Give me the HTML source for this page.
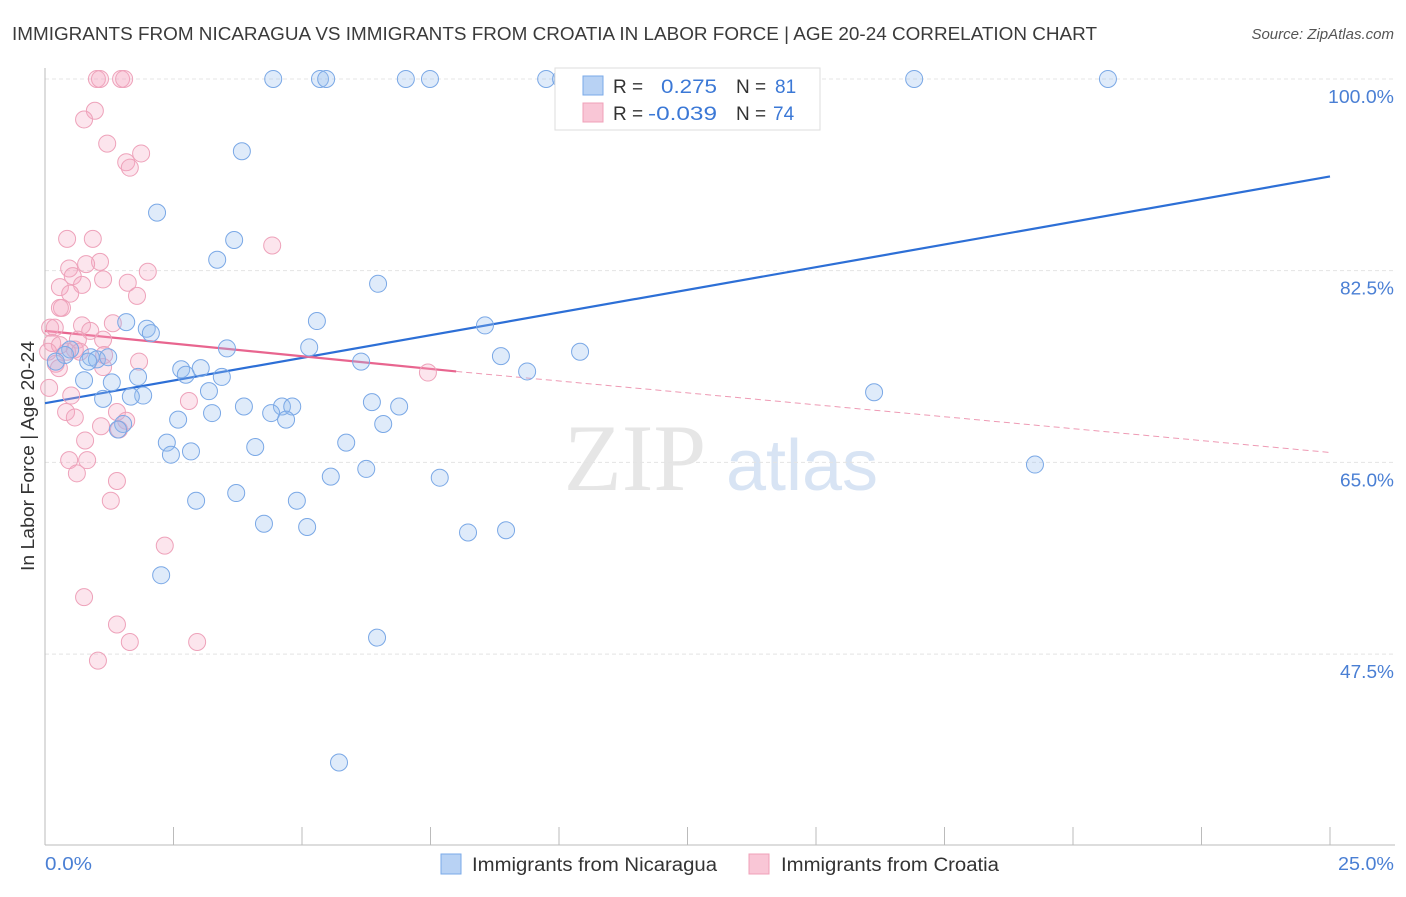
<!DOCTYPE html>
<html><head><meta charset="utf-8"><style>
body{margin:0;background:#fff;width:1406px;height:892px;overflow:hidden;font-family:"Liberation Sans",sans-serif}
</style></head><body>
<svg id="chart" width="1406" height="892" xmlns="http://www.w3.org/2000/svg" font-family="Liberation Sans, sans-serif">
<text x="12" y="40" font-size="18" fill="#3a3a3a" textLength="1085" lengthAdjust="spacingAndGlyphs">IMMIGRANTS FROM NICARAGUA VS IMMIGRANTS FROM CROATIA IN LABOR FORCE | AGE 20-24 CORRELATION CHART</text>
<text x="1394" y="39" font-size="15" fill="#555" text-anchor="end" font-style="italic">Source: ZipAtlas.com</text>
<g>
<text x="635" y="490" font-size="95" fill="#e6e6e6" text-anchor="middle" font-family="Liberation Serif, serif">ZIP</text>
<text x="802" y="490" font-size="72" fill="#d8e4f4" text-anchor="middle">atlas</text>
</g>
<g id="grid"></g>
<g id="axes"></g>
<g id="trend"></g>
<g id="points"></g>
<text transform="translate(34,456) rotate(-90)" font-size="18" fill="#333" text-anchor="middle" textLength="230" lengthAdjust="spacingAndGlyphs">In Labor Force | Age 20-24</text>
<text x="45" y="870" font-size="18" fill="#4a7fd4" textLength="47" lengthAdjust="spacingAndGlyphs">0.0%</text>
<text x="1394" y="870" font-size="18" fill="#4a7fd4" text-anchor="end" textLength="56" lengthAdjust="spacingAndGlyphs">25.0%</text>
<g>
<rect x="555" y="68" width="265" height="62" fill="#fff" stroke="#ddd"/>
<rect x="583" y="76" width="20" height="19" fill="#b8d2f4" stroke="#7aaae8"/>
<rect x="583" y="103" width="20" height="19" fill="#f9c6d6" stroke="#f0a0b8"/>
<text x="613" y="93" font-size="19" fill="#333">R =</text><text x="661" y="93" font-size="19" fill="#3b78d6" textLength="56" lengthAdjust="spacingAndGlyphs">0.275</text>
<text x="736" y="93" font-size="19" fill="#333">N =</text><text x="775" y="93" font-size="19" fill="#3b78d6">81</text>
<text x="613" y="120" font-size="19" fill="#333">R =</text><text x="648" y="120" font-size="19" fill="#3b78d6" textLength="69" lengthAdjust="spacingAndGlyphs">-0.039</text>
<text x="736" y="120" font-size="19" fill="#333">N =</text><text x="773" y="120" font-size="19" fill="#3b78d6">74</text>
</g>
<g>
<rect x="441" y="854" width="20" height="20" fill="#b8d2f4" stroke="#7aaae8"/>
<text x="472" y="871" font-size="19" fill="#333" textLength="245" lengthAdjust="spacingAndGlyphs">Immigrants from Nicaragua</text>
<rect x="749" y="854" width="20" height="20" fill="#f9c6d6" stroke="#f0a0b8"/>
<text x="781" y="871" font-size="19" fill="#333" textLength="218" lengthAdjust="spacingAndGlyphs">Immigrants from Croatia</text>
</g>
</svg>
<script>
const yTicks=[100,82.5,65,47.5];
const xTickVals=[0,2.5,5,7.5,10,12.5,15,17.5,20,22.5,25];
const blueX=[4.44,5.35,5.47,7.02,7.49,9.75,10.04,16.91,20.68,10.70,3.83,2.18,3.68,3.35,6.48,1.58,1.98,2.06,5.29,8.56,3.54,5.14,10.41,8.87,0.49,0.39,0.89,1.01,1.23,0.21,0.84,6.15,2.65,3.03,2.74,3.44,9.38,0.76,1.81,1.30,3.19,16.13,1.13,1.91,1.67,3.87,3.25,4.61,4.81,4.40,4.69,6.36,6.89,2.59,6.58,1.52,1.42,2.37,5.86,4.09,2.45,2.84,19.26,6.25,5.56,7.68,3.72,2.94,4.90,4.26,5.10,8.23,8.97,2.26,6.46,5.72];
const blueY=[100,100,100,100,100,100,100,100,100,99.5,93.4,87.8,85.3,83.5,81.3,77.8,77.2,76.8,77.9,77.5,75.4,75.5,75.1,74.7,75.3,74.8,74.6,74.4,74.6,74.2,74.2,74.2,73.5,73.6,73.0,72.8,73.3,72.5,72.8,72.3,71.5,71.4,70.8,71.1,71.0,70.1,69.5,70.1,70.1,69.5,68.9,70.5,70.1,68.9,68.5,68.5,68.0,66.8,66.8,66.4,65.7,66.0,64.8,64.4,63.7,63.6,62.2,61.5,61.5,59.4,59.1,58.6,58.8,54.7,49.0,37.6];
const pinkX=[1.01,1.07,1.48,1.54,0.97,0.76,1.21,1.58,1.87,1.65,0.43,0.93,4.42,0.47,1.07,0.80,2.00,0.54,0.72,1.13,1.61,0.29,1.79,0.49,0.33,0.29,0.10,0.19,0.72,1.32,0.88,0.64,1.13,0.14,0.29,0.58,0.06,0.43,0.68,1.15,1.83,0.21,0.27,7.45,1.13,0.08,0.51,2.80,0.41,0.58,1.40,1.58,1.09,1.44,0.78,0.82,0.47,0.62,1.40,1.28,2.33,0.76,1.40,1.65,2.96,1.03];
const pinkY=[100,100,100,100,97.1,96.3,94.1,92.4,93.2,91.9,85.4,85.4,84.8,82.7,83.3,83.1,82.4,82.0,81.2,81.7,81.4,81.0,80.2,80.4,79.1,79.1,77.3,77.3,77.5,77.7,77.0,76.2,76.2,75.9,75.7,75.3,75.1,75.1,75.1,74.8,74.2,74.0,73.6,73.2,73.7,71.8,71.1,70.6,69.6,69.1,69.6,68.8,68.3,68.0,67.0,65.2,65.2,64.0,63.3,61.5,57.4,52.7,50.2,48.6,48.6,46.9];
const blueTrend=[[0,70.4],[25,91.1]];
const pinkTrendSolid=[[0,77.0],[8,73.3]];
const pinkTrendDash=[[8,73.3],[25,65.9]];
const NS='http://www.w3.org/2000/svg';
const X0=45,X1=1330,YT=68,YB=845,YMIN=30.07,YMAX=101.0;
function sx(v){return X0+(v/25)*(X1-X0);}
function sy(v){return YB-(v-YMIN)/(YMAX-YMIN)*(YB-YT);}
function mk(tag,attrs,parent){const e=document.createElementNS(NS,tag);for(const k in attrs)e.setAttribute(k,attrs[k]);document.getElementById(parent).appendChild(e);return e;}
mk('line',{x1:X0,y1:sy(100),x2:1395,y2:sy(100),stroke:'#e4e4e4','stroke-dasharray':'4,3'},'grid');
yTicks.forEach(t=>{
 const g=mk('line',{x1:X0,y1:sy(t),x2:1395,y2:sy(t),stroke:'#e4e4e4','stroke-dasharray':'4,3'},'grid');
 
 
 const l=mk('text',{x:1394,y:sy(t)+24,'font-size':18,fill:'#4a7fd4','text-anchor':'end',textLength:(t===100?66:54),lengthAdjust:'spacingAndGlyphs'},'grid');
 l.textContent=t.toFixed(1)+'%';
 
 
});
const ya=mk('line',{x1:X0,y1:YT,x2:X0,y2:YB,stroke:'#bbb'},'axes');


const xa=mk('line',{x1:X0,y1:YB,x2:1395,y2:YB,stroke:'#bbb'},'axes');


xTickVals.forEach(t=>{
 const tk=mk('line',{x1:sx(t),y1:YB-18,x2:sx(t),y2:YB,stroke:'#bbb'},'axes');
 
 
});
function pts(xs,ys,fill,stroke,name){
 xs.forEach((x,i)=>{
  const c=mk('circle',{cx:sx(x),cy:sy(ys[i]),r:8.5,fill:fill,stroke:stroke,'stroke-width':1},'points');
  
  
 });
}
pts(pinkX,pinkY,'rgba(245,170,195,0.3)','#eea2ba','point-croatia');
pts(blueX,blueY,'rgba(150,190,240,0.3)','#7aa8e6','point-nicaragua');
const bt=mk('line',{x1:sx(blueTrend[0][0]),y1:sy(blueTrend[0][1]),x2:sx(blueTrend[1][0]),y2:sy(blueTrend[1][1]),stroke:'#2d6fd6','stroke-width':2.2},'trend');


const pt=mk('line',{x1:sx(pinkTrendSolid[0][0]),y1:sy(pinkTrendSolid[0][1]),x2:sx(pinkTrendSolid[1][0]),y2:sy(pinkTrendSolid[1][1]),stroke:'#e8658f','stroke-width':2.2},'trend');


const pd=mk('line',{x1:sx(pinkTrendDash[0][0]),y1:sy(pinkTrendDash[0][1]),x2:sx(pinkTrendDash[1][0]),y2:sy(pinkTrendDash[1][1]),stroke:'#ee9ab4','stroke-width':1,'stroke-dasharray':'6,4'},'trend');


</script>
</body></html>
